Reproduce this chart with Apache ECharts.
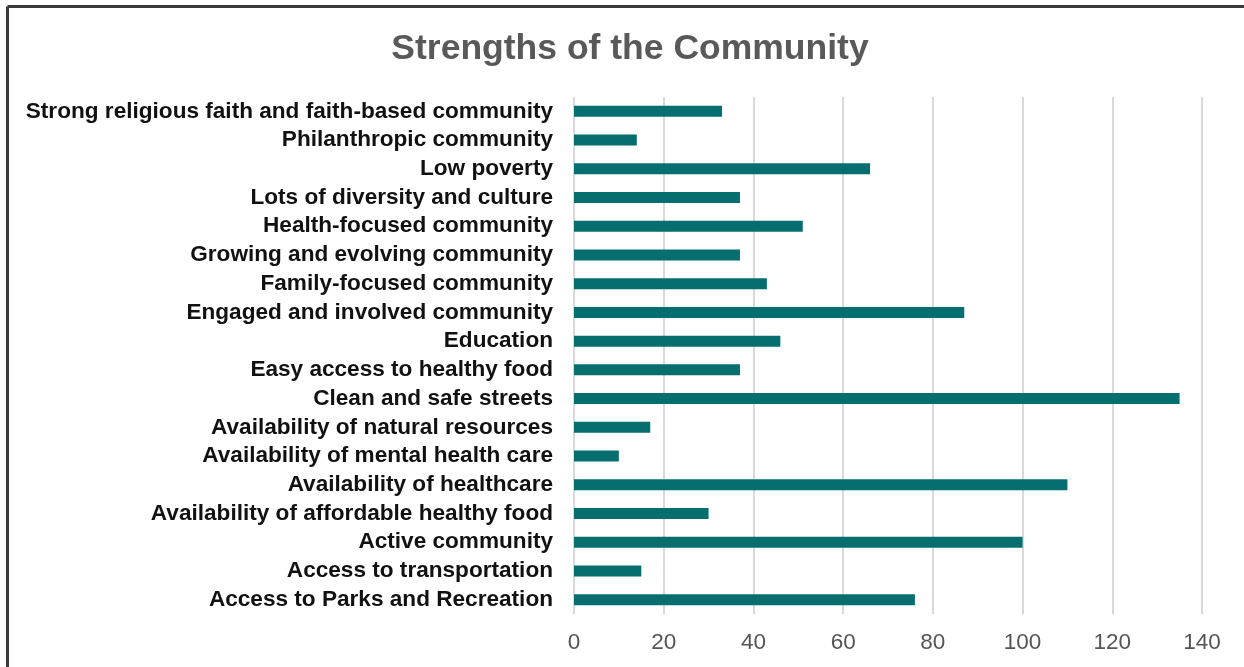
<!DOCTYPE html>
<html>
<head>
<meta charset="utf-8">
<style>
  html, body { margin: 0; padding: 0; background: #fff; }
  #chart { width: 1244px; height: 667px; }
</style>
<script src="https://cdn.jsdelivr.net/npm/echarts@6/dist/echarts.min.js"></script>
</head>
<body>
<div id="chart"></div>
<script>
// Survey responses: strengths of the community (listed top to bottom)
const categories = [
  'Strong religious faith and faith-based community',
  'Philanthropic community',
  'Low poverty',
  'Lots of diversity and culture',
  'Health-focused community',
  'Growing and evolving community',
  'Family-focused community',
  'Engaged and involved community',
  'Education',
  'Easy access to healthy food',
  'Clean and safe streets',
  'Availability of natural resources',
  'Availability of mental health care',
  'Availability of healthcare',
  'Availability of affordable healthy food',
  'Active community',
  'Access to transportation',
  'Access to Parks and Recreation'
];
const responses = [33, 14, 66, 37, 51, 37, 43, 87, 46, 37, 135, 17, 10, 110, 30, 100, 15, 76];
const xTicks = { min: 0, max: 140, interval: 20 };

const FONT = '"Liberation Sans", Arial, sans-serif';
const chart = echarts.init(document.getElementById('chart'));

chart.setOption({
  backgroundColor: '#ffffff',
  animation: false,
  title: {
    text: 'Strengths of the Community',
    left: 625,
    top: 26,
    textAlign: 'center',
    textStyle: { fontFamily: FONT, fontSize: 35.5, fontWeight: 'bold', color: '#595959' }
  },
  grid: { left: 574, right: 42, top: 97, bottom: 53, containLabel: false },
  xAxis: {
    type: 'value',
    min: xTicks.min,
    max: xTicks.max,
    interval: xTicks.interval,
    axisLine: { show: false },
    axisTick: { show: false },
    splitLine: { show: true, lineStyle: { color: '#d9d9d9', width: 2 } },
    axisLabel: { fontFamily: FONT, fontSize: 22.5, color: '#555555', margin: 17 }
  },
  yAxis: {
    type: 'category',
    data: categories,
    inverse: true,
    axisLine: { show: false },
    axisTick: { show: false },
    axisLabel: {
      interval: 0,
      fontFamily: FONT, fontSize: 22.6, fontWeight: 'bold', color: '#111111', margin: 21
    }
  },
  series: [{
    type: 'bar',
    data: responses,
    barWidth: 11,
    itemStyle: { color: '#066e6e' }
  }],
  graphic: [
    // frame around the chart (top and left edges)
    { type: 'line', shape: { x1: 7.5, y1: 6.5, x2: 1244, y2: 6.5 }, style: { stroke: '#3a3a3a', lineWidth: 3 } },
    { type: 'line', shape: { x1: 7.5, y1: 6.5, x2: 7.5, y2: 667 }, style: { stroke: '#3a3a3a', lineWidth: 3 } }
  ]
});
</script>
</body>
</html>
